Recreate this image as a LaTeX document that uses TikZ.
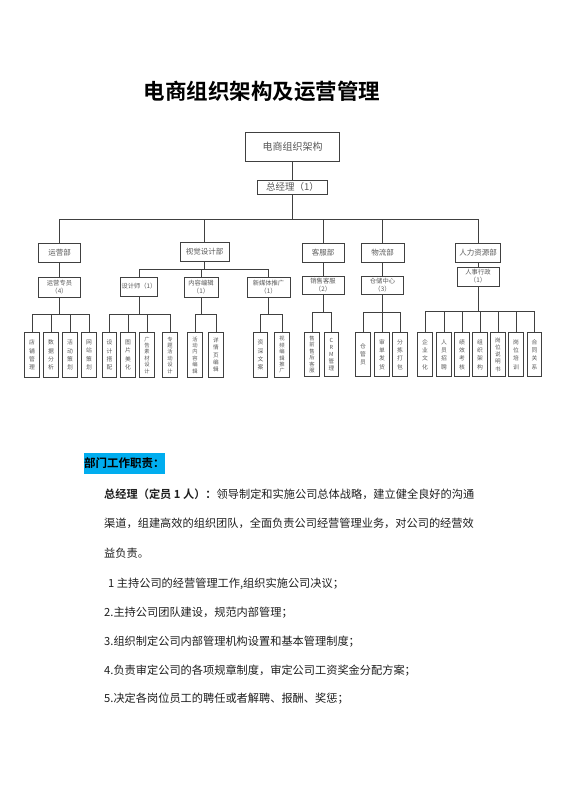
\documentclass[tikz,border=0pt]{standalone}
\usepackage{fontspec}
\setmainfont{Noto Sans CJK SC}[BoldFont={Noto Sans CJK SC Bold}]
\usetikzlibrary{calc}
\tikzset{
  conn/.style={draw=black!75, line width=0.8pt},
  box/.style={draw=black!75, line width=0.9pt, fill=white, inner sep=0pt, align=center, text=black!65},
  topbox/.style={box, minimum width=94pt, minimum height=29pt, font=\fontsize{10}{12}\selectfont},
  ceobox/.style={box, minimum width=70pt, minimum height=14pt, font=\fontsize{9.5}{11}\selectfont},
  dept/.style={box, minimum height=19pt, font=\fontsize{7.5}{9}\selectfont},
  sub/.style={box, minimum height=20pt, font=\fontsize{6.3}{7.8}\selectfont},
  leaf/.style={box, minimum width=14.5pt, minimum height=44.5pt, font=\fontsize{5.8}{8.3}\selectfont},
  leaffive/.style={leaf, font=\fontsize{5.6}{7.2}\selectfont},
  leafsix/.style={leaf, font=\fontsize{5.3}{6.4}\selectfont},
  titletext/.style={inner sep=0pt, font=\bfseries\fontsize{21.5}{25}\selectfont},
  body/.style={anchor=base west, inner sep=0pt, font=\fontsize{11.2}{13}\selectfont, text=black!88},
  heading/.style={anchor=west, fill=cyan, inner xsep=0pt, inner ysep=0pt, minimum height=21pt, font=\bfseries\fontsize{11.5}{13}\selectfont},
}
\begin{document}
\begin{tikzpicture}[x=1pt,y=-1pt]
\useasboundingbox (0,0) rectangle (560,792);
\fill[white] (0,0) rectangle (560,792);

% title
\node[titletext] (title) at (262,91) {电商组织架构及运营管理};

% top levels
\node[topbox] (top) at (292.5,146.5) {电商组织架构};
\node[ceobox] (ceo) at (292.5,187) {总经理（1）};

% bus coordinates
\coordinate (busA) at (0,219);
\coordinate (busB) at (0,269);
\coordinate (busC) at (0,314);
\coordinate (busD) at (0,312);
\coordinate (busE) at (0,311);

% departments
\node[dept, minimum width=42pt] (yy) at (59.5,252.5) {运营部};
\node[dept, minimum width=49pt] (sj) at (204.5,251.5) {视觉设计部};
\node[dept, minimum width=42pt] (kf) at (323,252.5) {客服部};
\node[dept, minimum width=43pt] (wl) at (382.5,252.5) {物流部};
\node[dept, minimum width=45pt] (hr) at (478,252.5) {人力资源部};

% second level
\node[sub, minimum width=42pt] (yyzy) at (59.5,287) {运营专员\\（4）};
\node[sub, minimum width=37pt, minimum height=19pt] (sjs) at (139,286.5) {设计师（1）};
\node[sub, minimum width=34pt] (nrbj) at (201,287) {内容编辑\\（1）};
\node[sub, minimum width=43pt] (xmt) at (268.5,287) {新媒体推广\\（1）};
\node[sub, minimum width=42pt, minimum height=18pt] (xskf) at (323,285) {销售客服\\（2）};
\node[sub, minimum width=42pt, minimum height=18pt] (cczx) at (382.5,285) {仓储中心\\（3）};
\node[sub, minimum width=42pt, minimum height=19pt] (rsxz) at (478,276.5) {人事行政\\（1）};

% leaves: 运营专员
\node[leaf] (a1) at (32,355) {店\\铺\\管\\理};
\node[leaf] (a2) at (51,355) {数\\据\\分\\析};
\node[leaf] (a3) at (70,355) {活\\动\\策\\划};
\node[leaf] (a4) at (89,355) {网\\站\\策\\划};
% leaves: 设计师
\node[leaf] (b1) at (109.5,355) {设\\计\\搭\\配};
\node[leaf] (b2) at (128,355) {图\\片\\美\\化};
\node[leafsix] (b3) at (147,355) {广\\告\\素\\材\\设\\计};
\node[leafsix] (b4) at (170,355) {专\\题\\活\\动\\设\\计};
% leaves: 内容编辑
\node[leafsix] (c1) at (195,355) {活\\动\\内\\容\\编\\辑};
\node[leaffive] (c2) at (216,355) {详\\情\\页\\编\\辑};
% leaves: 新媒体推广
\node[leaf] (d1) at (260.5,355) {资\\深\\文\\案};
\node[leafsix] (d2) at (282,355) {视\\频\\编\\辑\\推\\广};
% leaves: 销售客服
\node[leafsix] (e1) at (312,354.5) {售\\前\\售\\后\\客\\服};
\node[leaffive] (e2) at (331.5,354.5) {C\\R\\M\\管\\理};
% leaves: 仓储中心
\node[leaf] (f1) at (363,354.5) {仓\\管\\员};
\node[leaf] (f2) at (382,354.5) {审\\单\\发\\货};
\node[leaf] (f3) at (400,354.5) {分\\拣\\打\\包};
% leaves: 人事行政
\node[leaf] (g1) at (425,354.5) {企\\业\\文\\化};
\node[leaf] (g2) at (444,354.5) {人\\员\\招\\聘};
\node[leaf] (g3) at (462,354.5) {绩\\效\\考\\核};
\node[leaf] (g4) at (480,354.5) {组\\织\\架\\构};
\node[leaffive] (g5) at (498,354.5) {岗\\位\\说\\明\\书};
\node[leaf] (g6) at (516,354.5) {岗\\位\\培\\训};
\node[leaf] (g7) at (534.5,354.5) {合\\同\\关\\系};

% connectors
\draw[conn] (top.south) -- (ceo.north);
\draw[conn] (ceo.south) -- (ceo.south |- busA);
\foreach \d in {yy,sj,kf,wl,hr} \draw[conn] (ceo.south |- busA) -| (\d.north);

\draw[conn] (yy.south) -- (yyzy.north);
\draw[conn] (sj.south) -- (sj.south |- busB);
\foreach \c in {sjs,nrbj,xmt} \draw[conn] (sj.south |- busB) -| (\c.north);
\draw[conn] (kf.south) -- (xskf.north);
\draw[conn] (wl.south) -- (cczx.north);
\draw[conn] (hr.south) -- (rsxz.north);

\draw[conn] (yyzy.south) -- (yyzy.south |- busC);
\foreach \c in {a1,a2,a3,a4} \draw[conn] (yyzy.south |- busC) -| (\c.north);
\draw[conn] (sjs.south) -- (sjs.south |- busC);
\foreach \c in {b1,b2,b3,b4} \draw[conn] (sjs.south |- busC) -| (\c.north);
\draw[conn] (nrbj.south) -- (nrbj.south |- busC);
\foreach \c in {c1,c2} \draw[conn] (nrbj.south |- busC) -| (\c.north);
\draw[conn] (xmt.south) -- (xmt.south |- busC);
\foreach \c in {d1,d2} \draw[conn] (xmt.south |- busC) -| (\c.north);
\draw[conn] (xskf.south) -- (xskf.south |- busD);
\foreach \c in {e1,e2} \draw[conn] (xskf.south |- busD) -| (\c.north);
\draw[conn] (cczx.south) -- (cczx.south |- busD);
\foreach \c in {f1,f2,f3} \draw[conn] (cczx.south |- busD) -| (\c.north);
\draw[conn] (rsxz.south) -- (rsxz.south |- busE);
\foreach \c in {g1,g2,g3,g4,g5,g6,g7} \draw[conn] (rsxz.south |- busE) -| (\c.north);

% text section
\node[heading] (hd) at (84,463.5) {部门工作职责：};
\node[body] (p1) at (104,498) {\textbf{总经理（定员 1 人）：}领导制定和实施公司总体战略，建立健全良好的沟通};
\node[body] (p2) at (104,527) {渠道，组建高效的组织团队，全面负责公司经营管理业务，对公司的经营效};
\node[body] (p3) at (104,557) {益负责。};
\node[body] (i1) at (108,587) {1 主持公司的经营管理工作,组织实施公司决议；};
\node[body] (i2) at (104,616) {2.主持公司团队建设，规范内部管理；};
\node[body] (i3) at (104,645) {3.组织制定公司内部管理机构设置和基本管理制度；};
\node[body] (i4) at (104,674) {4.负责审定公司的各项规章制度，审定公司工资奖金分配方案；};
\node[body] (i5) at (104,702) {5.决定各岗位员工的聘任或者解聘、报酬、奖惩；};
\end{tikzpicture}
\end{document}
